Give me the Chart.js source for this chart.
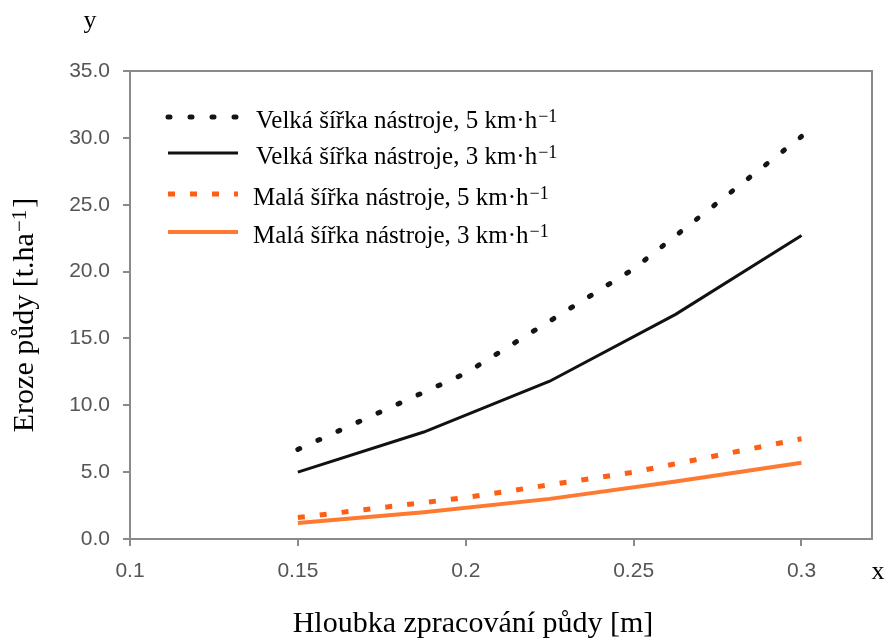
<!DOCTYPE html>
<html>
<head>
<meta charset="utf-8">
<script src="https://cdn.jsdelivr.net/npm/chart.js@4.4.0/dist/chart.umd.min.js"></script>
<style>
  html, body { margin: 0; padding: 0; background: #fff; }
  #wrap { width: 890px; height: 639px; }
</style>
</head>
<body>
<div id="wrap"><canvas id="erosionChart" width="890" height="639"></canvas></div>
<script>
// depth of tillage [m]
const depthsDotted = [0.15, 0.2, 0.25, 0.3];
const depthsSolid = [0.15, 0.1875, 0.225, 0.2625, 0.3];

// soil erosion [t.ha-1]
const largeTool5 = [6.7, 12.4, 20.2, 30.1];
const largeTool3 = [5.0, 8.0, 11.8, 16.8, 22.7];
const smallTool5 = [1.6, 3.1, 5.0, 7.5];
const smallTool3 = [1.2, 2.0, 3.0, 4.3, 5.7];

const seriesLabels = [
    'Velká šířka nástroje, 5 km·h⁻¹',
    'Velká šířka nástroje, 3 km·h⁻¹',
    'Malá šířka nástroje, 5 km·h⁻¹',
    'Malá šířka nástroje, 3 km·h⁻¹'
];

const xTicks = [0.1, 0.15, 0.2, 0.25, 0.3];
const yTicks = [0, 5, 10, 15, 20, 25, 30, 35];
const xTitle = 'Hloubka zpracování půdy [m]';
const yTitle = 'Eroze půdy [t.ha⁻¹]';

const SERIF = '"Liberation Serif", "Times New Roman", serif';
const SANS = '"Liberation Sans", Arial, sans-serif';
const AXIS_GRAY = '#8a8a8a';

function toPoints(xs, ys) {
    return xs.map((x, i) => ({ x: x, y: ys[i] }));
}

// draws "text⁻¹" with a raised superscript, y = centre of the capitals
function drawSup(ctx, text, x, y, size, supSize, align) {
    const parts = text.split('⁻¹');
    const base = parts[0];
    const rest = parts.length > 1 ? parts[1] : '';
    const hasSup = parts.length > 1;
    const baseline = y + size * 0.33;
    ctx.font = size + 'px ' + SERIF;
    const wBase = ctx.measureText(base).width;
    const wRest = ctx.measureText(rest).width;
    ctx.font = supSize + 'px ' + SERIF;
    const wSup = hasSup ? ctx.measureText('−1').width + 3 : 0;
    const total = wBase + wSup + wRest;
    const sx = align === 'center' ? x - total / 2 : x;
    ctx.textAlign = 'left';
    ctx.textBaseline = 'alphabetic';
    ctx.font = size + 'px ' + SERIF;
    ctx.fillText(base, sx, baseline);
    if (hasSup) {
        ctx.font = supSize + 'px ' + SERIF;
        ctx.fillText('−1', sx + wBase + 1, baseline - size * 0.24);
        ctx.font = size + 'px ' + SERIF;
        ctx.fillText(rest, sx + wBase + wSup, baseline);
    }
}

const frameAndText = {
    id: 'frameAndText',
    beforeDatasetsDraw(chart) {
        const { ctx, chartArea } = chart;
        ctx.save();
        ctx.strokeStyle = AXIS_GRAY;
        ctx.lineWidth = 2;
        ctx.strokeRect(chartArea.left, chartArea.top, chartArea.right - chartArea.left, chartArea.bottom - chartArea.top);
        ctx.restore();
    },
    afterDraw(chart) {
        const { ctx, chartArea } = chart;
        ctx.save();
        ctx.fillStyle = '#000';
        // axis letters
        ctx.font = '26px ' + SERIF;
        ctx.textAlign = 'center';
        ctx.textBaseline = 'middle';
        ctx.fillText('y', chartArea.left - 40, chartArea.top - 50);
        ctx.fillText('x', chartArea.right + 6, chartArea.bottom + 33);
        // x title
        drawSup(ctx, xTitle, chartArea.left + 343, chartArea.bottom + 83, 30, 22, 'center');
        // y title
        ctx.translate(23, chartArea.top + 244);
        ctx.rotate(-Math.PI / 2);
        drawSup(ctx, yTitle, 0, 0, 30, 21, 'center');
        ctx.restore();
    }
};

const insideLegend = {
    id: 'insideLegend',
    afterDatasetsDraw(chart) {
        const { ctx, chartArea } = chart;
        const rows = [46, 82, 123, 161];
        chart.data.datasets.forEach((ds, i) => {
            const y = chartArea.top + rows[i];
            const x0 = chartArea.left + 38;
            ctx.save();
            ctx.strokeStyle = ds.borderColor;
            ctx.lineWidth = ds.borderWidth;
            ctx.setLineDash(ds.borderDash || []);
            ctx.lineCap = ds.borderCapStyle || 'butt';
            ctx.beginPath();
            ctx.moveTo(x0, y);
            ctx.lineTo(x0 + 70, y);
            ctx.stroke();
            ctx.restore();
            ctx.save();
            ctx.fillStyle = '#000';
            drawSup(ctx, ds.label, chartArea.left + (i < 2 ? 126 : 123), y + 3, 25, 18, 'left');
            ctx.restore();
        });
    }
};

const ctx = document.getElementById('erosionChart').getContext('2d');

// eslint-disable-next-line no-undef
new Chart(ctx, {
    type: 'line',
    data: {
        datasets: [{
            label: seriesLabels[0],
            data: toPoints(depthsDotted, largeTool5),
            borderColor: '#141414',
            borderWidth: 5,
            borderDash: [2, 20],
            borderCapStyle: 'round'
        }, {
            label: seriesLabels[1],
            data: toPoints(depthsSolid, largeTool3),
            borderColor: '#111111',
            borderWidth: 3
        }, {
            label: seriesLabels[2],
            data: toPoints(depthsDotted, smallTool5),
            borderColor: '#ff5f15',
            borderWidth: 5,
            borderDash: [7, 15],
            borderCapStyle: 'butt'
        }, {
            label: seriesLabels[3],
            data: toPoints(depthsSolid, smallTool3),
            borderColor: '#ff7a30',
            borderWidth: 4
        }]
    },
    options: {
        responsive: false,
        animation: false,
        devicePixelRatio: 1,
        layout: { padding: { left: 0, top: 71, right: 18, bottom: 0 } },
        elements: { point: { radius: 0 }, line: { tension: 0 } },
        plugins: {
            legend: { display: false },
            tooltip: { enabled: false }
        },
        scales: {
            x: {
                type: 'linear',
                min: 0.1,
                max: 0.321,
                afterBuildTicks: (scale) => { scale.ticks = xTicks.map(v => ({ value: v })); },
                afterFit: (scale) => { scale.height = 100; },
                border: { display: false },
                grid: { drawOnChartArea: false, drawTicks: true, tickLength: 7, color: AXIS_GRAY, lineWidth: 2 },
                ticks: {
                    padding: 13,
                    color: '#555555',
                    font: { family: SANS, size: 21 },
                    maxRotation: 0,
                    callback: (v) => String(v)
                }
            },
            y: {
                min: 0,
                max: 35,
                afterBuildTicks: (scale) => { scale.ticks = yTicks.map(v => ({ value: v })); },
                afterFit: (scale) => { scale.width = 130; },
                border: { display: false },
                grid: { drawOnChartArea: false, drawTicks: true, tickLength: 7, color: AXIS_GRAY, lineWidth: 2 },
                ticks: {
                    padding: 13,
                    color: '#555555',
                    font: { family: SANS, size: 21 },
                    callback: (v) => Number(v).toFixed(1)
                }
            }
        }
    },
    plugins: [frameAndText, insideLegend]
});
</script>
</body>
</html>
